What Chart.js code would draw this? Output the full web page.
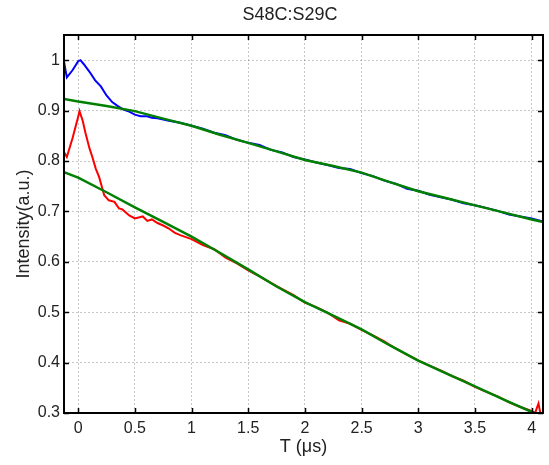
<!DOCTYPE html>
<html>
<head>
<meta charset="utf-8">
<script src="https://cdn.jsdelivr.net/npm/chart.js@4"></script>
<style>
  body { margin: 0; background: #fff; }
  canvas { display: block; }
</style>
</head>
<body>
<canvas id="chart" width="549" height="465"></canvas>
<script>
// tick positions
const xTicks = [0, 0.5, 1, 1.5, 2, 2.5, 3, 3.5, 4];
const yTicks = [0.3, 0.4, 0.5, 0.6, 0.7, 0.8, 0.9, 1];

// S48C measured trace (blue)
const blueT = [-0.125, -0.1, -0.05, 0, 0.02, 0.05, 0.1, 0.15, 0.2, 0.25, 0.3, 0.35, 0.4, 0.45, 0.5, 0.55, 0.6, 0.65, 0.7,
  0.8, 0.9, 1.0, 1.1, 1.2, 1.3, 1.4, 1.5, 1.6, 1.7, 1.8, 1.9, 2.0, 2.1, 2.2, 2.3, 2.4, 2.5, 2.6, 2.7, 2.8, 2.9,
  3.0, 3.1, 3.2, 3.3, 3.4, 3.5, 3.6, 3.7, 3.8, 3.9, 4.0, 4.1];
const blueI = [0.997, 0.966, 0.980, 0.998, 1.000, 0.992, 0.977, 0.960, 0.948, 0.930, 0.917, 0.909, 0.902, 0.898, 0.892, 0.889, 0.889, 0.886, 0.885,
  0.880, 0.876, 0.870, 0.864, 0.856, 0.851, 0.842, 0.836, 0.832, 0.822, 0.817, 0.808, 0.803, 0.797, 0.792, 0.786, 0.784, 0.776, 0.770, 0.761, 0.755, 0.745,
  0.741, 0.733, 0.728, 0.723, 0.716, 0.712, 0.707, 0.701, 0.694, 0.690, 0.686, 0.680];

// S29C measured trace (red)
const redT = [-0.125, -0.1, -0.05, 0, 0.012, 0.04, 0.065, 0.1, 0.125, 0.155, 0.185, 0.21, 0.23, 0.27, 0.32, 0.36, 0.39, 0.45, 0.5,
  0.55, 0.57, 0.61, 0.65, 0.7, 0.75, 0.8, 0.85, 0.9, 1.0, 1.1, 1.2, 1.3, 1.4, 1.5, 1.6, 1.7, 1.8, 1.9, 2.0, 2.1, 2.2,
  2.3, 2.4, 2.5, 2.6, 2.7, 2.8, 2.9, 3.0, 3.1, 3.2, 3.3, 3.4, 3.5, 3.6, 3.7, 3.8, 3.9, 4.0, 4.03, 4.06, 4.08];
const redI = [0.818, 0.808, 0.845, 0.888, 0.899, 0.880, 0.855, 0.825, 0.808, 0.785, 0.768, 0.748, 0.732, 0.722, 0.719, 0.706, 0.704, 0.692, 0.686,
  0.689, 0.690, 0.681, 0.684, 0.677, 0.672, 0.666, 0.658, 0.653, 0.645, 0.633, 0.625, 0.608, 0.597, 0.583, 0.571, 0.558, 0.546, 0.534, 0.519, 0.510, 0.499,
  0.484, 0.477, 0.465, 0.454, 0.442, 0.428, 0.416, 0.404, 0.394, 0.384, 0.373, 0.364, 0.352, 0.342, 0.333, 0.321, 0.312, 0.304, 0.300, 0.319, 0.296];

// fitted curves (green)
const fitT = [-0.125, 0, 0.25, 0.5, 0.75, 1, 1.25, 1.5, 1.75, 2, 2.25, 2.5, 2.75, 3, 3.25, 3.5, 3.75, 4, 4.1];
const fitBlue = [0.923, 0.918, 0.909, 0.899, 0.884, 0.870, 0.852, 0.836, 0.819, 0.802, 0.790, 0.777, 0.758, 0.740, 0.726, 0.712, 0.698, 0.684, 0.679];
const fitRed = [0.778, 0.767, 0.738, 0.708, 0.679, 0.650, 0.618, 0.585, 0.551, 0.520, 0.493, 0.466, 0.434, 0.404, 0.378, 0.353, 0.327, 0.302, 0.292];

const toPoints = (xs, ys) => xs.map((x, i) => ({ x: x, y: ys[i] }));

// frame box, inward ticks and the title
const framePlugin = {
  id: 'frame',
  afterDraw(chart) {
    const { ctx, chartArea: a, scales } = chart;
    ctx.save();
    ctx.strokeStyle = '#000';
    ctx.lineWidth = 1.5;
    ctx.beginPath();
    xTicks.forEach(v => {
      const px = Math.round(scales.x.getPixelForValue(v)) + 0.5;
      ctx.moveTo(px, a.bottom); ctx.lineTo(px, a.bottom - 5);
      ctx.moveTo(px, a.top); ctx.lineTo(px, a.top + 5);
    });
    yTicks.forEach(v => {
      const py = Math.round(scales.y.getPixelForValue(v)) + 0.5;
      ctx.moveTo(a.left, py); ctx.lineTo(a.left + 5, py);
      ctx.moveTo(a.right, py); ctx.lineTo(a.right - 5, py);
    });
    ctx.stroke();
    ctx.lineWidth = 2;
    ctx.strokeRect(a.left, a.top, a.right - a.left, a.bottom - a.top);
    ctx.fillStyle = '#222';
    ctx.font = '18px "Liberation Sans", Arial, sans-serif';
    ctx.textAlign = 'center';
    ctx.textBaseline = 'middle';
    ctx.fillText('S48C:S29C', 290, 15);
    ctx.restore();
  }
};

const tickFont = { family: '"Liberation Sans", Arial, sans-serif', size: 16 };
const titleFont = { family: '"Liberation Sans", Arial, sans-serif', size: 18 };

new Chart(document.getElementById('chart'), {
  type: 'line',
  data: {
    datasets: [
      { data: toPoints(fitT, fitBlue), borderColor: '#008000', borderWidth: 2.5, order: 0 },
      { data: toPoints(fitT, fitRed), borderColor: '#008000', borderWidth: 2.5, order: 0 },
      { data: toPoints(blueT, blueI), borderColor: '#0000ff', borderWidth: 2, order: 1 },
      { data: toPoints(redT, redI), borderColor: '#ff0000', borderWidth: 2, order: 1 }
    ]
  },
  options: {
    responsive: false,
    animation: false,
    layout: { padding: { left: 0, right: 6, top: 35, bottom: 0 } },
    elements: {
      point: { radius: 0 },
      line: { tension: 0, fill: false }
    },
    plugins: {
      legend: { display: false },
      tooltip: { enabled: false }
    },
    scales: {
      x: {
        type: 'linear',
        min: -0.125,
        max: 4.1,
        afterBuildTicks: s => { s.ticks = xTicks.map(v => ({ value: v })); },
        afterFit: s => { s.height = 52; },
        grid: { color: 'rgba(0,0,0,0.22)', lineWidth: 1, drawTicks: false },
        border: { display: false, dash: [2, 2] },
        ticks: { color: '#222', font: tickFont, padding: 6, maxRotation: 0, callback: v => String(v) },
        title: { display: true, text: 'T (μs)', color: '#222', font: titleFont, padding: { top: 0, bottom: 7 } }
      },
      y: {
        type: 'linear',
        min: 0.3,
        max: 1.05,
        afterBuildTicks: s => { s.ticks = yTicks.map(v => ({ value: v })); },
        afterFit: s => { s.width = 64; },
        grid: { color: 'rgba(0,0,0,0.22)', lineWidth: 1, drawTicks: false },
        border: { display: false, dash: [2, 2] },
        ticks: { color: '#222', font: tickFont, padding: 4, callback: v => String(v) },
        title: { display: true, text: 'Intensity(a.u.)', color: '#222', font: titleFont, padding: { top: 13, bottom: 0 } }
      }
    }
  },
  plugins: [framePlugin]
});
</script>
</body>
</html>
